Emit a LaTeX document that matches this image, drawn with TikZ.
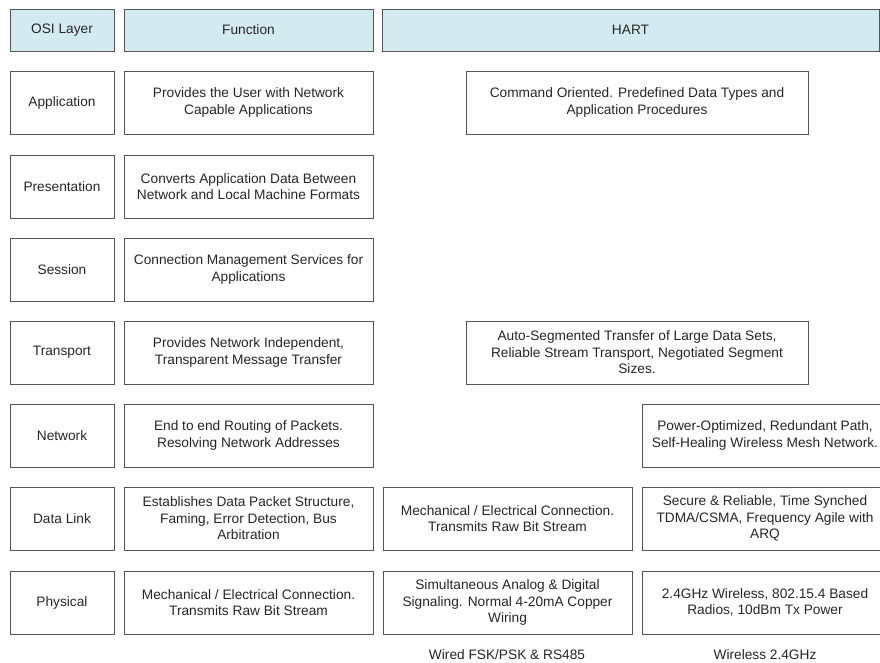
\documentclass[tikz,border=0pt]{standalone}
\usepackage{fontspec}
\setmainfont{Liberation Sans}
\definecolor{hdr}{RGB}{211,234,240}
\definecolor{edge}{RGB}{85,85,85}
\tikzset{
  cell/.style={draw=edge, line width=0.9pt, rectangle, inner sep=0pt, align=center,
    font=\fontsize{13.7}{16.5}\selectfont, text=black!85, minimum height=63},
  head/.style={cell, fill=hdr, minimum height=42},
  lay/.style={cell, minimum width=104},
  fun/.style={cell, minimum width=249},
  hmid/.style={cell, minimum width=342},
  wired/.style={cell, minimum width=249},
  wless/.style={cell, minimum width=246},
  note/.style={inner sep=0pt, font=\fontsize{13.7}{16.5}\selectfont, text=black!85}
}
\begin{document}
\begin{tikzpicture}[x=1pt,y=-1pt]
\useasboundingbox (0,0) rectangle (880,663);
\clip (0,0) rectangle (880,663);
% header
\node[head, minimum width=104] (hosi) at (62,30) {OSI Layer};
\node[head, minimum width=249] (hfun) at (248.5,30) {Function};
\node[head, minimum width=497] (hhart) at (630.5,30) {HART};
% OSI layers
\node[lay] (l1) at (62,102.5) {Application};
\node[lay] (l2) at (62,186.5) {Presentation};
\node[lay] (l3) at (62,269.5) {Session};
\node[lay] (l4) at (62,352.5) {Transport};
\node[lay] (l5) at (62,435.5) {Network};
\node[lay] (l6) at (62,518.5) {Data Link};
\node[lay] (l7) at (62,602.5) {Physical};
% functions
\node[fun] (f1) at (248.5,102.5) {Provides the User with Network\\Capable Applications};
\node[fun] (f2) at (248.5,186.5) {Converts Application Data Between\\Network and Local Machine Formats};
\node[fun] (f3) at (248.5,269.5) {Connection Management Services for\\Applications};
\node[fun] (f4) at (248.5,352.5) {Provides Network Independent,\\Transparent Message Transfer};
\node[fun] (f5) at (248.5,435.5) {End to end Routing of Packets.\\Resolving Network Addresses};
\node[fun] (f6) at (248.5,518.5) {Establishes Data Packet Structure,\\Faming, Error Detection, Bus\\Arbitration};
\node[fun] (f7) at (248.5,602.5) {Mechanical / Electrical Connection.\\Transmits Raw Bit Stream};
% HART
\node[hmid] (h1) at (637,102.5) {Command Oriented. Predefined Data Types and\\Application Procedures};
\node[hmid] (h4) at (637,352.5) {Auto-Segmented Transfer of Large Data Sets,\\Reliable Stream Transport, Negotiated Segment\\Sizes.};
\node[wless] (h5) at (765,435.5) {Power-Optimized, Redundant Path,\\Self-Healing Wireless Mesh Network.};
\node[wired] (h6a) at (507.5,518.5) {Mechanical / Electrical Connection.\\Transmits Raw Bit Stream};
\node[wless] (h6b) at (765,518.5) {Secure \& Reliable, Time Synched\\TDMA/CSMA, Frequency Agile with\\ARQ};
\node[wired] (h7a) at (507.5,602.5) {Simultaneous Analog \& Digital\\Signaling. Normal 4-20mA Copper\\Wiring};
\node[wless] (h7b) at (765,602.5) {2.4GHz Wireless, 802.15.4 Based\\Radios, 10dBm Tx Power};
% footer labels
\node[note] (lw) at (507,655) {Wired FSK/PSK \& RS485};
\node[note] (lwl) at (765,655) {Wireless 2.4GHz};
\end{tikzpicture}
\end{document}
